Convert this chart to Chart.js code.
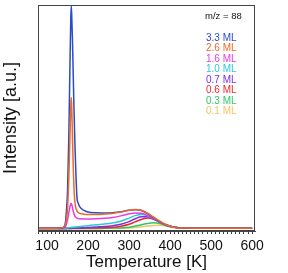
<!DOCTYPE html>
<html>
<head>
<meta charset="utf-8">
<script src="https://cdn.jsdelivr.net/npm/chart.js@4.4.1/dist/chart.umd.min.js"></script>
<style>
  html, body { margin: 0; padding: 0; background: #fff; }
  canvas { display: block; }
</style>
</head>
<body>
<canvas id="tpd" width="288" height="273"></canvas>
<script>
// Temperature grid (K), shared by every trace
const temps = [80, 100, 120, 135, 140, 145, 148, 150, 153, 156, 158, 159, 160, 162, 164, 166, 168, 170, 173, 176, 180, 185, 190, 200, 220, 240, 260, 280, 300, 315, 330, 345, 360, 375, 390, 405, 420, 440, 470, 500, 550, 600];

// Intensity (a.u.), one array per coverage
const ml33 = [0.002, 0.002, 0.002, 0.003, 0.006, 0.03, 0.10, 0.17, 0.40, 0.75, 0.95, 1.0, 0.97, 0.85, 0.68, 0.52, 0.38, 0.27, 0.14, 0.115, 0.098, 0.089, 0.083, 0.075, 0.072, 0.071, 0.072, 0.076, 0.083, 0.085, 0.082, 0.068, 0.050, 0.032, 0.018, 0.009, 0.005, 0.003, 0.002, 0.002, 0.002, 0.002];
const ml26 = [0.002, 0.002, 0.002, 0.004, 0.008, 0.02, 0.05, 0.09, 0.22, 0.42, 0.56, 0.59, 0.56, 0.42, 0.27, 0.17, 0.12, 0.095, 0.08, 0.073, 0.069, 0.067, 0.065, 0.064, 0.064, 0.066, 0.069, 0.075, 0.083, 0.086, 0.083, 0.070, 0.052, 0.034, 0.019, 0.009, 0.004, 0.003, 0.002, 0.002, 0.002, 0.002];
const ml16 = [0.002, 0.002, 0.002, 0.002, 0.004, 0.01, 0.025, 0.04, 0.07, 0.10, 0.113, 0.114, 0.11, 0.095, 0.078, 0.065, 0.057, 0.052, 0.048, 0.046, 0.045, 0.044, 0.044, 0.044, 0.045, 0.047, 0.051, 0.058, 0.067, 0.071, 0.070, 0.060, 0.046, 0.030, 0.017, 0.009, 0.005, 0.003, 0.002, 0.002, 0.002, 0.002];
const ml10 = [0.001, 0.001, 0.001, 0.001, 0.002, 0.003, 0.004, 0.004, 0.005, 0.006, 0.006, 0.006, 0.007, 0.007, 0.007, 0.008, 0.008, 0.008, 0.009, 0.009, 0.010, 0.011, 0.012, 0.014, 0.018, 0.021, 0.026, 0.034, 0.048, 0.059, 0.064, 0.058, 0.046, 0.030, 0.017, 0.009, 0.005, 0.003, 0.002, 0.002, 0.002, 0.002];
const ml07 = [0.001, 0.001, 0.001, 0.001, 0.001, 0.001, 0.002, 0.002, 0.002, 0.002, 0.002, 0.002, 0.003, 0.003, 0.003, 0.003, 0.003, 0.004, 0.004, 0.004, 0.004, 0.005, 0.005, 0.006, 0.008, 0.010, 0.014, 0.020, 0.032, 0.045, 0.054, 0.054, 0.044, 0.030, 0.017, 0.009, 0.005, 0.003, 0.002, 0.002, 0.002, 0.002];
const ml06 = [0.001, 0.001, 0.001, 0.001, 0.001, 0.001, 0.001, 0.001, 0.001, 0.001, 0.001, 0.001, 0.001, 0.002, 0.002, 0.002, 0.002, 0.002, 0.002, 0.002, 0.002, 0.002, 0.003, 0.003, 0.004, 0.005, 0.007, 0.011, 0.020, 0.031, 0.042, 0.048, 0.043, 0.030, 0.017, 0.009, 0.005, 0.003, 0.002, 0.002, 0.002, 0.002];
const ml03 = [0.001, 0.001, 0.001, 0.001, 0.001, 0.001, 0.001, 0.001, 0.001, 0.001, 0.001, 0.001, 0.001, 0.001, 0.001, 0.001, 0.001, 0.001, 0.001, 0.001, 0.001, 0.001, 0.001, 0.001, 0.001, 0.002, 0.003, 0.004, 0.007, 0.012, 0.018, 0.024, 0.027, 0.024, 0.015, 0.008, 0.004, 0.002, 0.002, 0.002, 0.002, 0.002];
const ml01 = [0.001, 0.001, 0.001, 0.001, 0.001, 0.001, 0.001, 0.001, 0.001, 0.001, 0.001, 0.001, 0.001, 0.001, 0.001, 0.001, 0.001, 0.001, 0.001, 0.001, 0.001, 0.001, 0.001, 0.001, 0.001, 0.001, 0.001, 0.002, 0.004, 0.006, 0.009, 0.012, 0.015, 0.016, 0.012, 0.007, 0.004, 0.002, 0.002, 0.002, 0.002, 0.002];

const coverages = ['3.3 ML', '2.6 ML', '1.6 ML', '1.0 ML', '0.7 ML', '0.6 ML', '0.3 ML', '0.1 ML'];
const seriesValues = [ml33, ml26, ml16, ml10, ml07, ml06, ml03, ml01];
const colors = ['#2a4cc4', '#ec6a28', '#e63ce0', '#2ec8d8', '#7f2fe0', '#e8282e', '#2cc86a', '#f2c462'];
const drawOrder = [1, 0, 2, 3, 4, 5, 6, 7];
const massLabel = 'm/z = 88';

// x axis: labelled ticks every 100 K, small ticks every 10 K
const majorTicks = [100, 200, 300, 400, 500, 600];
const minorStep = 10;

const FONT = '"Liberation Sans", Arial, sans-serif';

// frame around the plot + the m/z and coverage labels
const annotate = {
    id: 'annotate',
    afterDraw(chart) {
        const ctx = chart.ctx;
        const a = chart.chartArea;
        ctx.save();
        ctx.strokeStyle = '#444';
        ctx.lineWidth = 1;
        ctx.strokeRect(a.left + 0.5, a.top + 0.5, a.right - a.left - 1, a.bottom - a.top - 1);

        ctx.textBaseline = 'middle';
        ctx.textAlign = 'left';
        ctx.font = '9.5px ' + FONT;
        ctx.fillStyle = '#111';
        ctx.fillText(massLabel, 205, 16);

        ctx.font = '10px ' + FONT;
        coverages.forEach((c, i) => {
            ctx.fillStyle = colors[i];
            ctx.fillText(c, 206, 38 + 10.5 * i);
        });
        ctx.restore();
    }
};

const datasets = coverages.map((c, i) => ({
    label: c,
    data: temps.map((t, j) => ({ x: t, y: seriesValues[i][j] })),
    borderColor: colors[i],
    borderWidth: 1.5,
    pointRadius: 0,
    cubicInterpolationMode: 'monotone',
    fill: false,
    order: drawOrder[i]
}));

new Chart(document.getElementById('tpd'), {
    type: 'line',
    data: { datasets: datasets },
    options: {
        responsive: false,
        animation: false,
        layout: { padding: { top: 5, right: 33, left: 0, bottom: 0 } },
        plugins: { legend: { display: false }, tooltip: { enabled: false } },
        scales: {
            x: {
                type: 'linear',
                min: 78,
                max: 607,
                afterBuildTicks: s => {
                    const list = [];
                    for (let v = 80; v <= majorTicks[majorTicks.length - 1]; v += minorStep) list.push({ value: v });
                    s.ticks = list;
                },
                ticks: {
                    autoSkip: false,
                    maxRotation: 0,
                    padding: 4,
                    color: '#111',
                    font: { family: FONT, size: 14 },
                    callback: v => (majorTicks.includes(v) ? v : '')
                },
                grid: {
                    drawOnChartArea: false,
                    tickLength: 3,
                    tickColor: '#444'
                },
                border: { color: '#444' },
                title: { display: true, text: 'Temperature [K]', color: '#111', font: { family: FONT, size: 17 }, padding: 0 },
                afterFit: s => { s.height = 42; }
            },
            y: {
                min: -0.01,
                max: 1.005,
                ticks: { display: false },
                grid: { display: false },
                border: { color: '#444' },
                title: { display: true, text: 'Intensity [a.u.]', color: '#111', font: { family: FONT, size: 18 }, padding: 0 },
                afterFit: s => { s.width = 38; }
            }
        }
    },
    plugins: [annotate]
});
</script>
</body>
</html>
